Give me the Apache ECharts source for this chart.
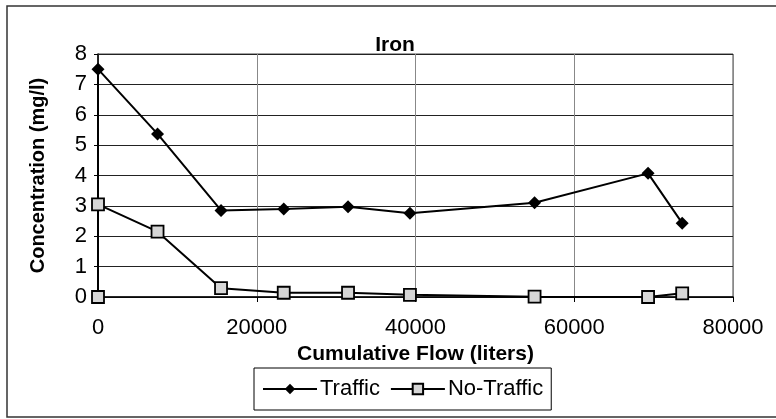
<!DOCTYPE html>
<html>
<head>
<meta charset="utf-8">
<script src="https://cdn.jsdelivr.net/npm/echarts@6/dist/echarts.min.js"></script>
<style>
  html, body { margin: 0; padding: 0; background: #fff; }
  #chart { width: 776px; height: 419px; }
</style>
</head>
<body>
<div id="chart"></div>
<script>
// Cumulative flow (liters) at each sampling point
const flow = [0, 0, 7500, 15500, 23400, 31500, 39300, 55000, 69300, 73600];
// Iron concentration (mg/l)
const traffic = [0, 7.5, 5.37, 2.85, 2.9, 2.97, 2.76, 3.1, 4.07, 2.43];
const noTraffic = [0, 3.05, 2.15, 0.29, 0.14, 0.14, 0.07, 0.01, 0, 0.12];

const xTicks = [0, 20000, 40000, 60000, 80000];
const yTicks = [0, 1, 2, 3, 4, 5, 6, 7, 8];

const FONT = '"Liberation Sans", Arial, sans-serif';

const pairs = (xs, ys) => xs.map((x, i) => [x, ys[i]]);

const chart = echarts.init(document.getElementById('chart'), null, { renderer: 'canvas' });

chart.setOption({
  animation: false,
  backgroundColor: '#fff',
  textStyle: { fontFamily: FONT, color: '#000' },
  title: {
    text: 'Iron',
    left: 390,
    top: 30,
    textAlign: 'center',
    textStyle: { fontFamily: FONT, fontSize: 21, fontWeight: 'bold', color: '#000' }
  },
  graphic: [{
    type: 'rect',
    shape: { x: 7, y: 6, width: 800, height: 411 },
    style: { fill: 'none', stroke: '#333', lineWidth: 1.5 },
    silent: true,
    z: -1
  }],
  grid: {
    left: 98, top: 54, width: 635, height: 243,
    show: true, borderColor: '#444', borderWidth: 1, backgroundColor: 'transparent'
  },
  legend: {
    left: 254, top: 368,
    padding: [10, 8, 10, 8],
    itemGap: 10,
    itemWidth: 54, itemHeight: 13,
    borderColor: '#000', borderWidth: 1,
    textStyle: { fontFamily: FONT, fontSize: 22, color: '#000', padding: [0, 0, 0, -2] },
    data: ['Traffic', 'No-Traffic']
  },
  xAxis: {
    type: 'value',
    min: xTicks[0], max: xTicks[xTicks.length - 1], interval: xTicks[1] - xTicks[0],
    name: 'Cumulative Flow (liters)',
    nameLocation: 'middle',
    nameGap: 46,
    nameTextStyle: { fontFamily: FONT, fontSize: 21, fontWeight: 'bold', color: '#000' },
    axisLine: { lineStyle: { color: '#000', width: 1.5 } },
    axisTick: { show: true, length: 5, lineStyle: { color: '#000' } },
    axisLabel: { fontFamily: FONT, fontSize: 22, color: '#000', margin: 20,
                 formatter: v => String(v) },
    splitLine: { show: true, lineStyle: { color: '#888', width: 1 } }
  },
  yAxis: {
    type: 'value',
    min: yTicks[0], max: yTicks[yTicks.length - 1], interval: yTicks[1] - yTicks[0],
    name: 'Concentration (mg/l)',
    nameLocation: 'middle',
    nameGap: 50,
    nameTextStyle: { fontFamily: FONT, fontSize: 20, fontWeight: 'bold', color: '#000' },
    axisLine: { show: true, lineStyle: { color: '#000', width: 1.5 } },
    axisTick: { show: true, length: 4, lineStyle: { color: '#000' } },
    axisLabel: { fontFamily: FONT, fontSize: 22, color: '#000', margin: 11,
                 formatter: v => String(v) },
    splitLine: { show: true, lineStyle: { color: '#222', width: 1.2 } }
  },
  series: [
    {
      name: 'Traffic',
      type: 'line',
      data: pairs(flow, traffic),
      symbol: 'diamond',
      symbolSize: 13,
      showAllSymbol: true,
      lineStyle: { color: '#000', width: 2 },
      itemStyle: { color: '#000', borderColor: '#000', borderWidth: 0 }
    },
    {
      name: 'No-Traffic',
      type: 'line',
      data: pairs(flow, noTraffic),
      symbol: 'rect',
      symbolSize: 12,
      showAllSymbol: true,
      lineStyle: { color: '#000', width: 2 },
      itemStyle: { color: '#d6d6d6', borderColor: '#000', borderWidth: 1.8 }
    }
  ]
});
</script>
</body>
</html>
